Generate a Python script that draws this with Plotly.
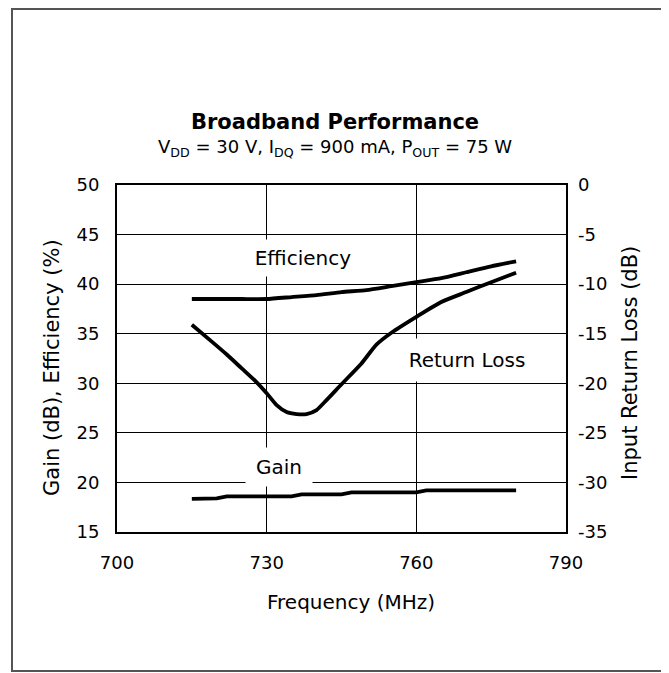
import plotly.graph_objects as go

# ---- data ----
freq_eff = [715, 720, 725, 730, 735, 740, 745, 750, 755, 760, 765, 770, 775, 780]
efficiency = [38.5, 38.5, 38.5, 38.5, 38.7, 38.9, 39.2, 39.4, 39.8, 40.2, 40.6, 41.2, 41.8, 42.3]

freq_rl = [715, 719, 722, 725, 728, 730, 732, 734, 736, 738, 740, 742, 745, 749, 752, 755, 760, 765, 770, 775, 780]
return_loss = [-14.1, -15.8, -17.1, -18.5, -19.9, -21.0, -22.2, -22.9, -23.1, -23.1, -22.7, -21.7,
               -20.1, -18.0, -16.1, -14.9, -13.3, -11.8, -10.8, -9.8, -8.85]

freq_gain = [715, 720, 722, 735, 737, 745, 747, 760, 762, 780]
gain = [18.35, 18.4, 18.6, 18.6, 18.8, 18.8, 19.0, 19.0, 19.2, 19.2]

x_ticks = [700, 730, 760, 790]
left_ticks = [15, 20, 25, 30, 35, 40, 45, 50]
right_ticks = [-35, -30, -25, -20, -15, -10, -5, 0]
right_tick_text = ["-35", "-30", "-25", "-20", "-15", "-10", "-5", "0"]

# page has an 8px body margin, so the figure is drawn 8px smaller and offset
OFF = 8
W, H = 669 - OFF, 673 - OFF
L, R, T, B = 117 - OFF, 566 - OFF, 185 - OFF, 532 - OFF   # plot area in figure pixels
FONT = "DejaVu Sans, Arial, sans-serif"


def px(xp):
    """reference-screen x pixel -> paper coordinate"""
    return (xp - OFF - L) / (R - L)


def py(yp):
    """reference-screen y pixel -> paper coordinate"""
    return (B - (yp - OFF)) / (B - T)


fig = go.Figure()
line = dict(color="black", width=3.8)
fig.add_trace(go.Scatter(x=freq_eff, y=efficiency, mode="lines",
                         line=dict(**line, shape="spline", smoothing=0.5),
                         yaxis="y", showlegend=False, hoverinfo="skip"))
fig.add_trace(go.Scatter(x=freq_gain, y=gain, mode="lines", line=line,
                         yaxis="y", showlegend=False, hoverinfo="skip"))
fig.add_trace(go.Scatter(x=freq_rl, y=return_loss, mode="lines",
                         line=dict(**line, shape="spline", smoothing=0.6),
                         yaxis="y2", showlegend=False, hoverinfo="skip"))

tickfont = dict(family=FONT, size=18, color="black")
labfont = dict(family=FONT, size=20, color="black")
axfont = dict(family=FONT, size=21, color="black")

fig.update_layout(
    width=W, height=H,
    margin=dict(l=L, r=W - R, t=T, b=H - B, autoexpand=False),
    paper_bgcolor="white", plot_bgcolor="white",
    xaxis=dict(range=[700, 790], tickvals=x_ticks, ticks="", showgrid=True, gridcolor="black", gridwidth=1,
               showline=True, linecolor="black", linewidth=2, mirror=True, zeroline=False,
               tickfont=tickfont, ticklabelstandoff=13),
    yaxis=dict(range=[15, 50], tickvals=left_ticks, ticks="", showgrid=True, gridcolor="black", gridwidth=1,
               showline=True, linecolor="black", linewidth=2, mirror=True, zeroline=False,
               tickfont=tickfont, ticklabelstandoff=12),
    yaxis2=dict(range=[-35, 0], tickvals=right_ticks, ticktext=right_tick_text, ticks="",
                overlaying="y", side="right",
                showgrid=False, zeroline=False, showline=False,
                tickfont=tickfont, ticklabelstandoff=11),
    shapes=[dict(type="rect", xref="paper", yref="paper", x0=px(12), x1=px(663), y0=py(9), y1=py(671),
                 line=dict(color="#555555", width=2), layer="below")],
    annotations=[
        dict(xref="paper", yref="paper", x=px(335), y=py(122), text="<b>Broadband Performance</b>",
             showarrow=False, font=dict(family=FONT, size=21, color="black"),
             xanchor="center", yanchor="middle"),
        dict(xref="paper", yref="paper", x=px(335), y=py(148),
             text="V<sub>DD</sub> = 30 V, I<sub>DQ</sub> = 900 mA, P<sub>OUT</sub> = 75 W",
             showarrow=False, font=dict(family=FONT, size=18, color="black"),
             xanchor="center", yanchor="middle"),
        # axis titles
        dict(xref="paper", yref="paper", x=px(351), y=py(602), text="Frequency (MHz)", showarrow=False,
             font=labfont, xanchor="center", yanchor="middle"),
        dict(xref="paper", yref="paper", x=px(52), y=py(368), text="Gain (dB), Efficiency (%)", showarrow=False,
             font=axfont, xanchor="center", yanchor="middle", textangle=-90),
        dict(xref="paper", yref="paper", x=px(630), y=py(363), text="Input Return Loss (dB)", showarrow=False,
             font=axfont, xanchor="center", yanchor="middle", textangle=-90),
        # curve labels with white boxes that interrupt the grid
        dict(xref="paper", yref="paper", x=px(303), y=py(257.5), text="Efficiency", showarrow=False,
             font=labfont, bgcolor="white", height=34, width=104, xanchor="center", yanchor="middle"),
        dict(xref="paper", yref="paper", x=px(467), y=py(360), text="Return Loss", showarrow=False,
             font=labfont, bgcolor="white", height=40, width=128, xanchor="center", yanchor="middle"),
        dict(xref="paper", yref="paper", x=px(279), y=py(467), text="Gain", showarrow=False,
             font=labfont, bgcolor="white", height=36, width=64, xanchor="center", yanchor="middle",
             valign="middle"),
    ],
)

fig.write_html("out.html")
